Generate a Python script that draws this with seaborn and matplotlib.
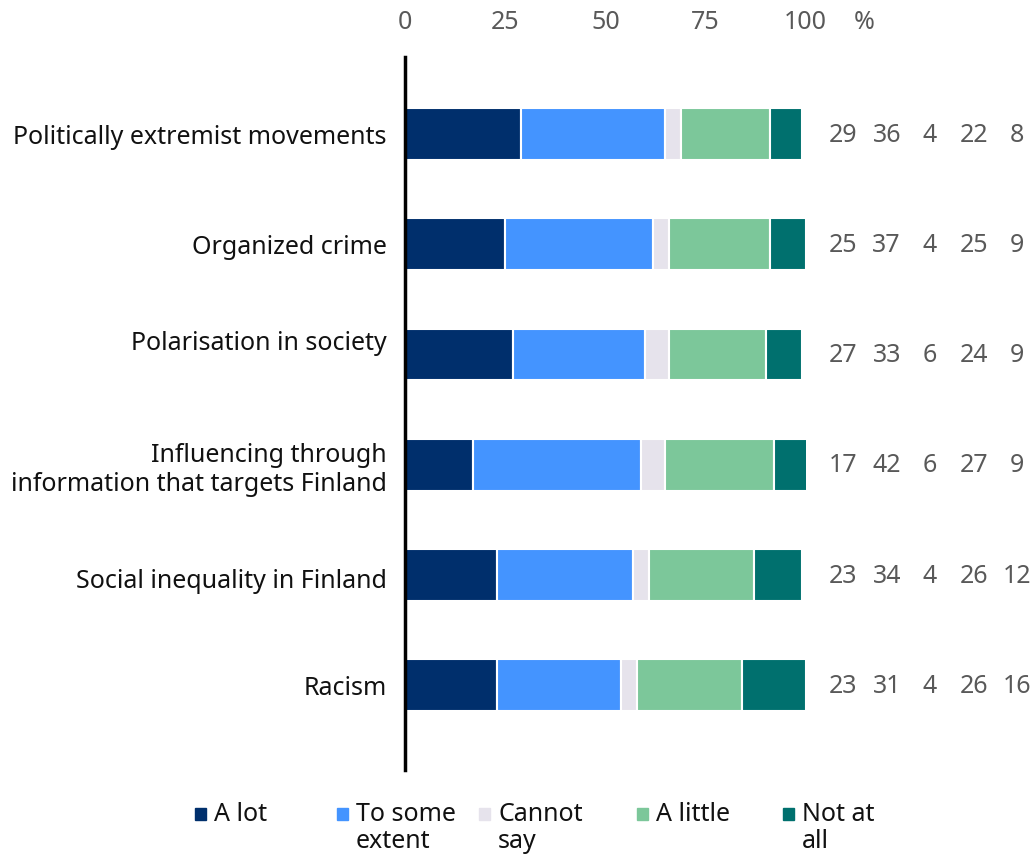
import numpy as np
import matplotlib.pyplot as plt
import matplotlib.transforms as mtransforms
import seaborn as sns
from matplotlib.patches import Rectangle

categories = [
    "Politically extremist movements",
    "Organized crime",
    "Polarisation in society",
    "Influencing through\ninformation that targets Finland",
    "Social inequality in Finland",
    "Racism",
]
series = ["A lot", "To some extent", "Cannot say", "A little", "Not at all"]
legend_labels = ["A lot", "To some\nextent", "Cannot\nsay", "A little", "Not at\nall"]
a_lot = [29, 25, 27, 17, 23, 23]
to_some_extent = [36, 37, 33, 42, 34, 31]
cannot_say = [4, 4, 6, 6, 4, 4]
a_little = [22, 25, 24, 27, 26, 26]
not_at_all = [8, 9, 9, 9, 12, 16]
ticks = [0, 25, 50, 75, 100]

colors = ["#002F6C", "#4494FF", "#E6E3EC", "#7CC79A", "#00706E"]
values = [a_lot, to_some_extent, cannot_say, a_little, not_at_all]

sns.set_style("white")
plt.rcParams["font.family"] = ["Noto Sans", "DejaVu Sans"]
grey = "#595959"
fs = 18

fig = plt.figure(figsize=(10.33, 8.59), dpi=100)
ax = fig.add_axes([0.392, 0.1036, 0.388, 0.83])

left = np.zeros(len(categories))
for vals, c in zip(values, colors):
    sns.barplot(x=vals, y=categories, orient="h", color=c, saturation=1,
                width=0.47, left=left, edgecolor="white", linewidth=1.5,
                errorbar=None, ax=ax)
    left = left + np.array(vals)

ax.set_xlim(0, 100)
ax.set_ylim(5.77, -0.7)
ax.set_xlabel("")
ax.set_ylabel("")
ax.xaxis.tick_top()
ax.set_xticks(ticks)
ax.set_xticklabels([str(t) for t in ticks])
ax.tick_params(axis="x", length=0, pad=16, labelsize=fs, labelcolor=grey)
ax.tick_params(axis="y", length=0, pad=13, labelsize=fs, labelcolor="#111111")
for s in ["top", "right", "bottom"]:
    ax.spines[s].set_visible(False)
ax.spines["left"].set_linewidth(2.5)
ax.spines["left"].set_color("black")

# small vertical nudges seen on a couple of category labels
nudges = {2: 14, 4: -4}
for i, lab in enumerate(ax.get_yticklabels()):
    if i in nudges:
        off = mtransforms.ScaledTranslation(0, nudges[i] / 100, fig.dpi_scale_trans)
        lab.set_transform(lab.get_transform() + off)

# percent sign next to the top axis
ax.annotate("%", xy=(114.7, 1), xycoords=("data", "axes fraction"),
            xytext=(0, 16), textcoords="offset points", ha="center",
            va="bottom", fontsize=fs, color=grey, annotation_clip=False)

# value columns on the right
col_x = [109.3, 120.2, 130.9, 141.9, 152.6]
for i in range(len(categories)):
    for j, vals in enumerate(values):
        ax.text(col_x[j], i + 0.01, str(vals[i]), ha="center", va="center",
                fontsize=fs, color=grey, clip_on=False)

# legend drawn by hand so the squares line up with the first text line
leg_x = [195, 337, 479, 637, 783]
for lx, lab, c in zip(leg_x, legend_labels, colors):
    fig.patches.append(Rectangle((lx / 1033, 1 - 820 / 859), 11 / 1033, 12 / 859,
                                 transform=fig.transFigure, color=c))
    fig.text((lx + 19) / 1033, 1 - 802 / 859, lab, ha="left", va="top",
             fontsize=fs, color="#111111", linespacing=1.12)

fig.savefig("out.png", dpi=100)
